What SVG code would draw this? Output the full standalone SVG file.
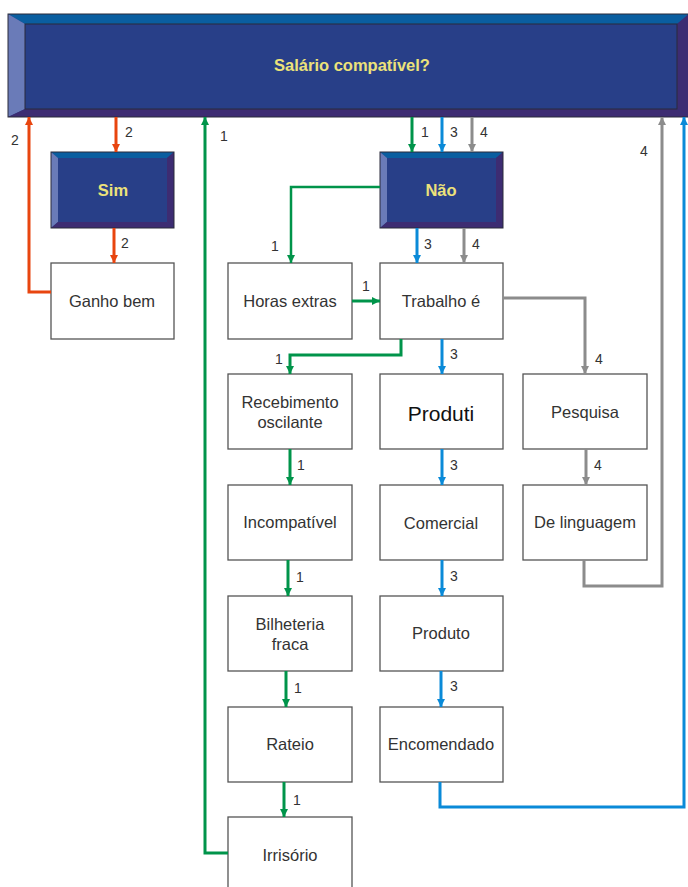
<svg xmlns="http://www.w3.org/2000/svg" width="688" height="887" viewBox="0 0 688 887">
<style>
.box{fill:#fff;stroke:#555;stroke-width:1.3}
.t{font-family:"Liberation Sans",Arial,sans-serif;font-size:16.5px;fill:#333;text-anchor:middle}
.big{font-size:21px;fill:#111}
.yt{font-family:"Liberation Sans",Arial,sans-serif;font-size:16.5px;font-weight:bold;fill:#ece27a;text-anchor:middle}
.lb{font-family:"Liberation Sans",Arial,sans-serif;font-size:14px;fill:#333}
.face{fill:#283f88}
.bt{fill:#0a5ea0}
.bl{fill:#6a7bb8}
.br{fill:#3d2c72}
.edge{fill:none;stroke:#2a2a3a;stroke-width:1}
.c{fill:none;stroke-width:3}
.r{stroke:#e8450f}
.g{stroke:#00944a}
.b{stroke:#0a8ad8}
.k{stroke:#8c8c8c}
</style>
<defs>
<marker id="ar" viewBox="0 0 10 10" refX="10" refY="5" markerUnits="userSpaceOnUse" markerWidth="9" markerHeight="8" orient="auto"><path d="M0,0 L10,5 L0,10 Z" fill="#e8450f"/></marker>
<marker id="ag" viewBox="0 0 10 10" refX="10" refY="5" markerUnits="userSpaceOnUse" markerWidth="9" markerHeight="8" orient="auto"><path d="M0,0 L10,5 L0,10 Z" fill="#00944a"/></marker>
<marker id="ab" viewBox="0 0 10 10" refX="10" refY="5" markerUnits="userSpaceOnUse" markerWidth="9" markerHeight="8" orient="auto"><path d="M0,0 L10,5 L0,10 Z" fill="#0a8ad8"/></marker>
<marker id="ak" viewBox="0 0 10 10" refX="10" refY="5" markerUnits="userSpaceOnUse" markerWidth="9" markerHeight="8" orient="auto"><path d="M0,0 L10,5 L0,10 Z" fill="#8c8c8c"/></marker>
</defs>

<g id="salario">
<rect class="face" x="8" y="14" width="681" height="103"/>
<polygon class="bt" points="8,14 689,14 677,24 25,24"/>
<polygon class="bl" points="8,14 25,24 25,109 8,117"/>
<polygon class="br" points="689,14 689,117 677,109 677,24"/>
<polygon class="br" points="8,117 25,109 677,109 689,117"/>
<rect class="edge" x="25" y="24" width="652" height="85"/>
<rect class="edge" x="8" y="14" width="681" height="103"/>
<text class="yt" x="352" y="71">Salário compatível?</text>
</g>

<g id="sim">
<rect class="face" x="51" y="152" width="123" height="76"/>
<polygon class="bt" points="51,152 174,152 167,158 58,158"/>
<polygon class="bl" points="51,152 58,158 58,222 51,228"/>
<polygon class="br" points="174,152 174,228 167,222 167,158"/>
<polygon class="br" points="51,228 58,222 167,222 174,228"/>
<rect class="edge" x="51" y="152" width="123" height="76"/>
<text class="yt" x="113" y="196">Sim</text>
</g>

<g id="nao">
<rect class="face" x="380" y="152" width="123" height="76"/>
<polygon class="bt" points="380,152 503,152 496,158 387,158"/>
<polygon class="bl" points="380,152 387,158 387,222 380,228"/>
<polygon class="br" points="503,152 503,228 496,222 496,158"/>
<polygon class="br" points="380,228 387,222 496,222 503,228"/>
<rect class="edge" x="380" y="152" width="123" height="76"/>
<text class="yt" x="441" y="196">Não</text>
</g>

<g id="ganho"><rect class="box" x="51" y="263" width="123" height="76"/><text class="t" x="112" y="307">Ganho bem</text></g>
<g id="horas"><rect class="box" x="228" y="263" width="124" height="76"/><text class="t" x="290" y="307">Horas extras</text></g>
<g id="trabalho"><rect class="box" x="380" y="263" width="123" height="76"/><text class="t" x="441" y="307">Trabalho é</text></g>
<g id="recebimento"><rect class="box" x="228" y="374" width="124" height="75"/><text class="t" x="290" y="408">Recebimento</text><text class="t" x="290" y="428">oscilante</text></g>
<g id="produti"><rect class="box" x="380" y="374" width="123" height="75"/><text class="t big" x="441" y="421">Produti</text></g>
<g id="pesquisa"><rect class="box" x="523" y="374" width="124" height="75"/><text class="t" x="585" y="418">Pesquisa</text></g>
<g id="incompativel"><rect class="box" x="228" y="485" width="124" height="75"/><text class="t" x="290" y="528">Incompatível</text></g>
<g id="comercial"><rect class="box" x="380" y="485" width="123" height="75"/><text class="t" x="441" y="529">Comercial</text></g>
<g id="linguagem"><rect class="box" x="523" y="485" width="124" height="75"/><text class="t" x="585" y="528">De linguagem</text></g>
<g id="bilheteria"><rect class="box" x="228" y="596" width="124" height="75"/><text class="t" x="290" y="630">Bilheteria</text><text class="t" x="290" y="650">fraca</text></g>
<g id="produto"><rect class="box" x="380" y="596" width="123" height="75"/><text class="t" x="441" y="639">Produto</text></g>
<g id="rateio"><rect class="box" x="228" y="707" width="124" height="75"/><text class="t" x="290" y="750">Rateio</text></g>
<g id="encomendado"><rect class="box" x="380" y="707" width="123" height="75"/><text class="t" x="441" y="750">Encomendado</text></g>
<g id="irrisorio"><rect class="box" x="228" y="817" width="124" height="80"/><text class="t" x="290" y="861">Irrisório</text></g>

<g id="connectors">
<path class="c r" d="M116,117 V152" marker-end="url(#ar)"/>
<path class="c r" d="M114,228 V263" marker-end="url(#ar)"/>
<path class="c r" d="M51,292 H29 V117" marker-end="url(#ar)"/>
<path class="c g" d="M228,853 H205 V117" marker-end="url(#ag)"/>
<path class="c g" d="M412,117 V152" marker-end="url(#ag)"/>
<path class="c b" d="M442,117 V152" marker-end="url(#ab)"/>
<path class="c k" d="M472,117 V152" marker-end="url(#ak)"/>
<path class="c g" style="stroke-width:2.5" d="M380,187 H291 V263" marker-end="url(#ag)"/>
<path class="c b" d="M417,228 V263" marker-end="url(#ab)"/>
<path class="c k" d="M464,228 V263" marker-end="url(#ak)"/>
<path class="c g" d="M352,301 H380" marker-end="url(#ag)"/>
<path class="c g" d="M401,339 V355 H290 V374" marker-end="url(#ag)"/>
<path class="c b" d="M442,339 V374" marker-end="url(#ab)"/>
<path class="c k" d="M503,298 H585 V374" marker-end="url(#ak)"/>
<path class="c g" d="M290,449 V485" marker-end="url(#ag)"/>
<path class="c b" d="M442,449 V485" marker-end="url(#ab)"/>
<path class="c k" d="M586,449 V485" marker-end="url(#ak)"/>
<path class="c g" d="M288,560 V596" marker-end="url(#ag)"/>
<path class="c b" d="M442,560 V596" marker-end="url(#ab)"/>
<path class="c k" d="M584,560 V586 H662 V117" marker-end="url(#ak)"/>
<path class="c g" d="M286,671 V707" marker-end="url(#ag)"/>
<path class="c b" d="M441,671 V707" marker-end="url(#ab)"/>
<path class="c g" d="M284,782 V817" marker-end="url(#ag)"/>
<path class="c b" d="M440,782 V807 H684 V117" marker-end="url(#ab)"/>
</g>

<g id="labels">
<text class="lb" x="125" y="137">2</text>
<text class="lb" x="121" y="248">2</text>
<text class="lb" x="11" y="145">2</text>
<text class="lb" x="220" y="141">1</text>
<text class="lb" x="421" y="137">1</text>
<text class="lb" x="450" y="137">3</text>
<text class="lb" x="480" y="137">4</text>
<text class="lb" x="271" y="251">1</text>
<text class="lb" x="424" y="249">3</text>
<text class="lb" x="472" y="249">4</text>
<text class="lb" x="362" y="291">1</text>
<text class="lb" x="275" y="364">1</text>
<text class="lb" x="450" y="359">3</text>
<text class="lb" x="595" y="364">4</text>
<text class="lb" x="640" y="156">4</text>
<text class="lb" x="297" y="470">1</text>
<text class="lb" x="450" y="470">3</text>
<text class="lb" x="594" y="470">4</text>
<text class="lb" x="296" y="582">1</text>
<text class="lb" x="450" y="581">3</text>
<text class="lb" x="294" y="693">1</text>
<text class="lb" x="450" y="691">3</text>
<text class="lb" x="293" y="805">1</text>
</g>
</svg>
